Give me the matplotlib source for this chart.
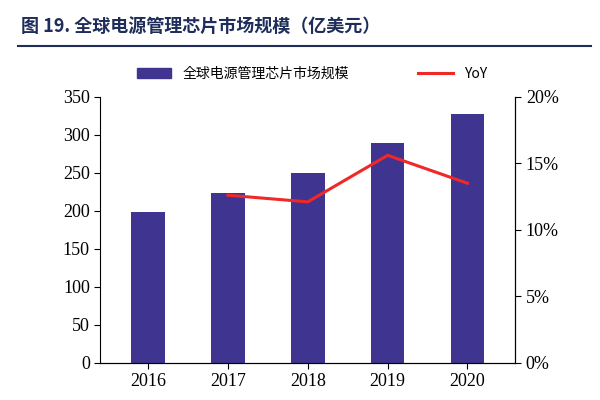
import matplotlib
matplotlib.use("Agg")
import matplotlib.pyplot as plt
from matplotlib.lines import Line2D
from matplotlib import font_manager as fm

years = ["2016", "2017", "2018", "2019", "2020"]
market = [198, 223, 250, 289, 328]
yoy_years = ["2017", "2018", "2019", "2020"]
yoy = [12.6, 12.1, 15.6, 13.5]

cjk_names = sorted({f.name for f in fm.fontManager.ttflist if "CJK" in f.name})
cjk = next((n for n in cjk_names if "SC" in n), cjk_names[0] if cjk_names else "DejaVu Sans")
serif = "Liberation Serif"

fig = plt.figure(figsize=(6, 4), dpi=100)
ax = fig.add_axes([0.167, 0.093, 0.692, 0.665])
x = list(range(len(years)))
ax.bar(x, market, width=0.42, color="#3F3590")
ax.set_ylim(0, 350)
ax.set_yticks(range(0, 351, 50))
ax.set_xlim(-0.6, 4.6)
ax.set_xticks(x)
ax.set_xticklabels(years)
ax2 = ax.twinx()
ax2.plot([years.index(y) for y in yoy_years], yoy, color="#F02828", lw=2.2)
ax2.set_ylim(0, 20)
ax2.set_yticks(range(0, 21, 5))
ax2.set_yticklabels([f"{v}%" for v in range(0, 21, 5)])
for a in (ax, ax2):
    a.spines["top"].set_visible(False)
    a.tick_params(labelsize=13, direction="out", length=4)
    for lab in a.get_xticklabels() + a.get_yticklabels():
        lab.set_fontfamily(serif)
ax2.spines["left"].set_visible(False)

fig.text(0.035, 0.935, "图 19. 全球电源管理芯片市场规模（亿美元）", fontfamily=cjk,
         fontsize=13, fontweight="bold", color="#1F2D5A", va="center")
fig.add_artist(Line2D([0.03, 0.985], [0.885, 0.885], color="#1F2D5A", lw=1.5))

handles = [plt.Rectangle((0, 0), 1, 1, color="#3F3590"), Line2D([], [], color="#F02828", lw=2.2)]
fig.legend(handles, ["全球电源管理芯片市场规模", "YoY"], loc="center", bbox_to_anchor=(0.52, 0.815),
           ncol=2, frameon=False, prop={"family": cjk, "size": 10}, columnspacing=5,
           handlelength=2.5)
fig.savefig("out.png", dpi=100)
